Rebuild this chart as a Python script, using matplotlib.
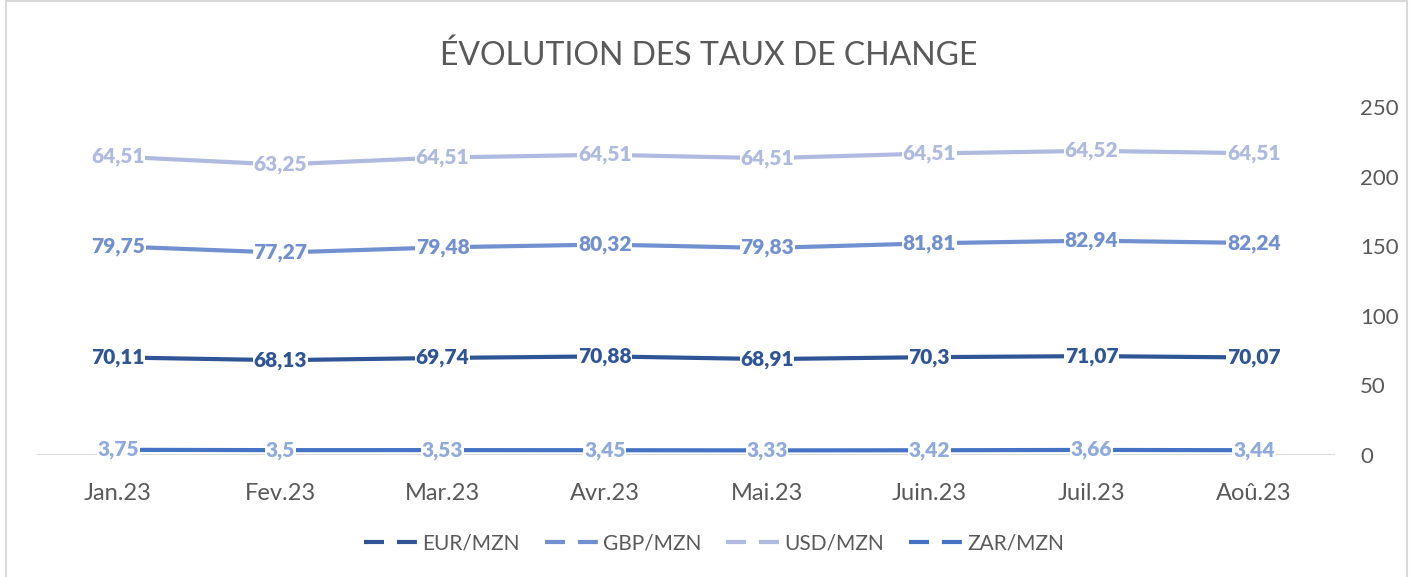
import matplotlib.pyplot as plt
from matplotlib.lines import Line2D
from matplotlib.patches import Rectangle
import numpy as np

plt.rcParams['font.family'] = ['Lato', 'DejaVu Sans']

months = ['Jan.23', 'Fev.23', 'Mar.23', 'Avr.23', 'Mai.23', 'Juin.23', 'Juil.23', 'Aoû.23']
eur = [70.11, 68.13, 69.74, 70.88, 68.91, 70.3, 71.07, 70.07]
gbp = [79.75, 77.27, 79.48, 80.32, 79.83, 81.81, 82.94, 82.24]
usd = [64.51, 63.25, 64.51, 64.51, 64.51, 64.51, 64.52, 64.51]
zar = [3.75, 3.5, 3.53, 3.45, 3.33, 3.42, 3.66, 3.44]
names = ['EUR/MZN', 'GBP/MZN', 'USD/MZN', 'ZAR/MZN']

c_eur = '#2F5597'
c_gbp = '#7190D0'
c_usd = '#AEBADF'
c_zar = '#4472C4'
c_zar_lbl = '#8FAADC'
grey = '#595959'


def fmt(v):
    return ('%g' % v).replace('.', ',')


fig = plt.figure(figsize=(14.17, 5.77), dpi=100)
ax = fig.add_axes([0.0261, 0.2114, 0.916, 0.6031])
x = np.arange(len(months))

# stacked lines (EUR, GBP, USD), ZAR on its own
s1 = np.array(eur)
s2 = s1 + np.array(gbp)
s3 = s2 + np.array(usd)

ax.axhline(0, color='#D9D9D9', lw=1.5, zorder=1)
series = [
    (s1, eur, c_eur, c_eur),
    (s2, gbp, c_gbp, c_gbp),
    (s3, usd, c_usd, c_usd),
    (np.array(zar), zar, c_zar, c_zar_lbl),
]
for ys, vals, col, lcol in series:
    ax.plot(x, ys, color=col, lw=3, solid_capstyle='round', zorder=2)
    for xi, yi, v in zip(x, ys, vals):
        ax.text(xi, yi, fmt(v), ha='center', va='center', fontsize=15,
                fontweight='heavy', color=lcol, zorder=3,
                bbox=dict(facecolor='white', edgecolor='none', pad=0.5))

ax.set_xlim(-0.5, 7.5)
ax.set_ylim(0, 250)
ax.set_xticks(x)
ax.set_xticklabels(months, fontsize=17, color=grey)
ax.yaxis.tick_right()
ax.set_yticks([0, 50, 100, 150, 200, 250])
ax.tick_params(axis='both', length=0, labelcolor=grey)
ax.tick_params(axis='y', labelsize=16, pad=18)
ax.tick_params(axis='x', pad=20)
for sp in ax.spines.values():
    sp.set_visible(False)

fig.text(0.5, 0.887, 'ÉVOLUTION DES TAUX DE CHANGE', ha='center', va='baseline',
         fontsize=23, fontweight='normal', color=grey)

handles = [Line2D([], [], color=c, lw=3, linestyle=(0, (4.8, 3.1)))
           for c in [c_eur, c_gbp, c_usd, c_zar]]
fig.legend(handles, names, loc='center', bbox_to_anchor=(0.504, 0.058), ncol=4,
           frameon=False, fontsize=15, handlelength=2.6, handletextpad=0.2,
           columnspacing=1.2, labelcolor=grey)

fig.patches.append(Rectangle((0.004, -0.01), 0.989, 1.008, transform=fig.transFigure,
                             fill=False, edgecolor='#D9D9D9', lw=1.5))

fig.savefig('out.png', dpi=100)
